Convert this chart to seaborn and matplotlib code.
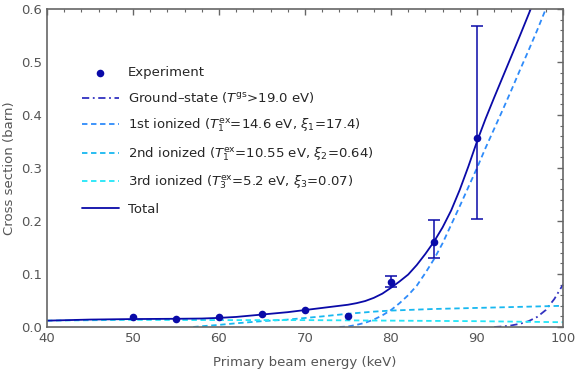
import numpy as np
import pandas as pd
import seaborn as sns
import matplotlib.pyplot as plt
from matplotlib.ticker import MultipleLocator

# experiment points
exp_e = [50, 55, 60, 65, 70, 75, 80, 85, 90]
exp_cs = [0.018, 0.016, 0.018, 0.025, 0.032, 0.021, 0.084, 0.161, 0.357]
exp_lo = [0, 0, 0, 0, 0, 0, 0.075, 0.130, 0.204]
exp_hi = [0, 0, 0, 0, 0, 0, 0.097, 0.202, 0.568]
has_err = [False] * 6 + [True] * 3

# model curves (sampled by eye)
tot_e = [40, 45, 50, 55, 58, 60, 62, 64, 66, 68, 70, 72, 74, 75, 76, 77, 78, 79, 80,
         81, 82, 83, 84, 85, 86, 87, 88, 89, 90, 91, 92, 93, 94, 95, 96, 97]
tot_cs = [0.012, 0.014, 0.015, 0.0155, 0.016, 0.0172, 0.019, 0.022, 0.025, 0.028, 0.032,
          0.036, 0.040, 0.042, 0.045, 0.049, 0.055, 0.063, 0.074,
          0.086, 0.099, 0.117, 0.138, 0.161, 0.188, 0.220, 0.259, 0.303, 0.350,
          0.393, 0.433, 0.472, 0.511, 0.550, 0.590, 0.630]

gs_e = [92, 93, 94, 95, 96, 97, 98, 99, 100]
gs_cs = [0.0, 0.001, 0.003, 0.006, 0.011, 0.019, 0.032, 0.053, 0.08]

ion1_e = [74, 75, 76, 77, 78, 79, 80, 81, 82, 83, 84, 85, 86, 87, 88, 89, 90,
          91, 92, 93, 94, 95, 96, 97, 98, 99, 100]
ion1_cs = [0.0, 0.001, 0.004, 0.008, 0.014, 0.022, 0.032, 0.045, 0.060, 0.078, 0.102,
           0.128, 0.158, 0.193, 0.228, 0.264, 0.300,
           0.338, 0.374, 0.410, 0.447, 0.485, 0.522, 0.560, 0.600, 0.640, 0.680]

ion2_e = [57, 58, 60, 62, 65, 68, 70, 72, 75, 78, 80, 85, 90, 95, 100]
ion2_cs = [0.0, 0.0015, 0.004, 0.007, 0.011, 0.014, 0.017, 0.020, 0.025, 0.029, 0.031,
           0.034, 0.036, 0.038, 0.040]

ion3_e = [40, 50, 60, 70, 80, 90, 100]
ion3_cs = [0.012, 0.0135, 0.013, 0.013, 0.012, 0.011, 0.009]

labels = ["Experiment",
          "Ground\u2013state ($T^{\\rm gs}$>19.0 eV)",
          "1st ionized ($T_1^{\\rm ex}$=14.6 eV, $\\xi_1$=17.4)",
          "2nd ionized ($T_1^{\\rm ex}$=10.55 eV, $\\xi_2$=0.64)",
          "3rd ionized ($T_3^{\\rm ex}$=5.2 eV, $\\xi_3$=0.07)",
          "Total"]

sns.set_style("white")
plt.rcParams['font.family'] = ['DejaVu Sans']

fig = plt.figure(figsize=(5.76, 3.71), dpi=100)
ax = fig.add_axes([0.0816, 0.1186, 0.8958, 0.8571])

dark = "#0A0AA8"
err = pd.DataFrame({"e": exp_e, "cs": exp_cs, "lo": exp_lo, "hi": exp_hi, "err": has_err})
e_sub = err[err["err"]]
ax.errorbar(e_sub["e"], e_sub["cs"], yerr=[e_sub["cs"] - e_sub["lo"], e_sub["hi"] - e_sub["cs"]],
            fmt="none", ecolor=dark, elinewidth=1.1, capsize=4, capthick=1.1, zorder=3)
sns.scatterplot(data=err, x="e", y="cs", color=dark, s=30, edgecolor=dark, linewidth=0,
                ax=ax, label=labels[0], zorder=4)

sns.lineplot(x=gs_e, y=gs_cs, ax=ax, color="#3232C0", lw=1.3, label=labels[1])
ax.lines[-1].set_dashes([4, 2, 1, 2])
sns.lineplot(x=ion1_e, y=ion1_cs, ax=ax, color="#2E8BFA", lw=1.3, label=labels[2])
ax.lines[-1].set_dashes([3, 2])
sns.lineplot(x=ion2_e, y=ion2_cs, ax=ax, color="#18B8F0", lw=1.3, label=labels[3])
ax.lines[-1].set_dashes([3, 2])
sns.lineplot(x=ion3_e, y=ion3_cs, ax=ax, color="#22E6F8", lw=1.3, label=labels[4])
ax.lines[-1].set_dashes([3, 2])
sns.lineplot(x=tot_e, y=tot_cs, ax=ax, color=dark, lw=1.3, label=labels[5])

ax.set_xlim(40, 100)
ax.set_ylim(0, 0.6)
ax.xaxis.set_major_locator(MultipleLocator(10))
ax.xaxis.set_minor_locator(MultipleLocator(2))
ax.yaxis.set_major_locator(MultipleLocator(0.1))
ax.yaxis.set_minor_locator(MultipleLocator(0.02))
ax.yaxis.set_major_formatter(plt.FuncFormatter(lambda v, p: f"{v:.1f}"))

grey = "#666666"
for s in ax.spines.values():
    s.set_color(grey)
    s.set_linewidth(1.2)
ax.tick_params(which="both", direction="in", top=True, right=True, colors=grey,
               labelcolor="#555555", labelsize=9.5)
ax.tick_params(which="major", length=4, width=1)
ax.tick_params(which="minor", length=2.5, width=0.8)

ax.set_xlabel("Primary beam energy (keV)", color="#555555", fontsize=9.5, labelpad=8)
ax.set_ylabel("Cross section (barn)", color="#555555", fontsize=9.5, labelpad=4)

ax.legend(loc="upper left", bbox_to_anchor=(0.044, 0.858), frameon=False, fontsize=9.5,
          handlelength=2.8, handletextpad=0.7, labelspacing=0.85)

fig.savefig("out.png", dpi=100)
